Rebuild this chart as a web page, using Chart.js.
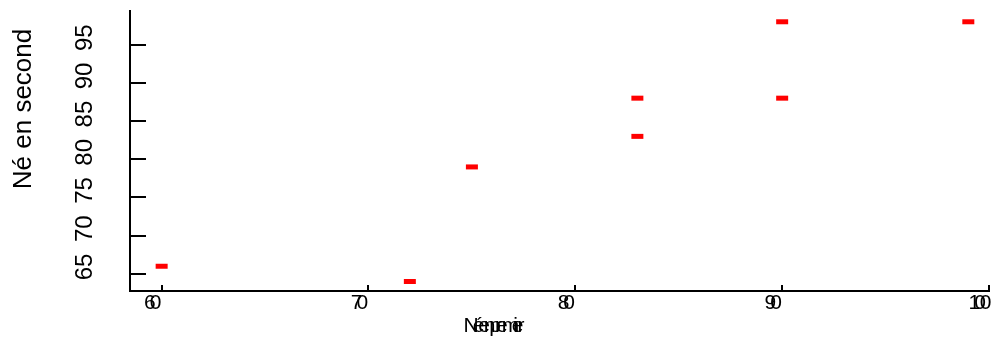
<!DOCTYPE html>
<html lang="fr">
<head>
    <meta charset="UTF-8">
    <title>Né en premier / Né en second</title>
    <script src="https://cdn.jsdelivr.net/npm/chart.js"></script>
    <style>
        html, body { margin: 0; padding: 0; overflow: hidden; background: #fff; }
    </style>
</head>
<body>
    <canvas id="myChart" width="1000" height="341"></canvas>
    <script>
        // values
        const xValues = [60, 72, 75, 83, 83, 90, 90, 99];
        const yValues = [66, 64, 79, 88, 83, 88, 98, 98];

        const xTicks = [60, 70, 80, 90, 100];
        const xTickLabels = ['60', '70', '80', '90', '100'];
        const yTicks = [65, 70, 75, 80, 85, 90, 95];
        const yTickLabels = ['65', '70', '75', '80', '85', '90', '95'];

        const xTitle = 'Né en premier';
        const yTitle = 'Né en second';

        const FONT = '"Liberation Sans", Arial, sans-serif';
        Chart.defaults.font.family = FONT;
        Chart.defaults.color = '#000';

        // inward tick marks, squeezed x labels and axis titles
        const axisExtras = {
            id: 'axisExtras',
            afterDraw(chart) {
                const { ctx, chartArea, scales } = chart;
                const x = scales.x, y = scales.y;
                ctx.save();
                ctx.strokeStyle = '#000';
                ctx.lineWidth = 2;
                ctx.beginPath();
                yTicks.forEach(v => {
                    const py = Math.round(y.getPixelForValue(v));
                    ctx.moveTo(chartArea.left, py);
                    ctx.lineTo(chartArea.left + 16, py);
                });
                xTicks.forEach(v => {
                    const px = Math.round(x.getPixelForValue(v));
                    ctx.moveTo(px, chartArea.bottom);
                    ctx.lineTo(px, chartArea.bottom - 6);
                });
                ctx.stroke();

                ctx.fillStyle = '#000';
                ctx.textAlign = 'center';
                ctx.textBaseline = 'alphabetic';
                ctx.font = '21px ' + FONT;
                ctx.letterSpacing = '-6px';
                xTicks.forEach((v, i) => {
                    const px = Math.min(x.getPixelForValue(v) - 12, 977);
                    ctx.fillText(xTickLabels[i], px, chartArea.bottom + 18);
                });

                ctx.fillText(xTitle, 491, 332);

                ctx.letterSpacing = '0px';
                ctx.font = '26px ' + FONT;
                ctx.translate(24, 109);
                ctx.rotate(-Math.PI / 2);
                ctx.textBaseline = 'middle';
                ctx.fillText(yTitle, 0, 0);
                ctx.restore();
            }
        };

        const ctx = document.getElementById('myChart').getContext('2d');
        const myChart = new Chart(ctx, {
            type: 'scatter',
            data: {
                datasets: [{
                    label: 'points',
                    data: xValues.map((v, i) => ({ x: v, y: yValues[i] })),
                    pointStyle: 'line',
                    pointRadius: 6,
                    pointHoverRadius: 6,
                    pointBorderWidth: 5,
                    borderColor: '#ff0000',
                    backgroundColor: '#ff0000'
                }]
            },
            options: {
                responsive: false,
                animation: false,
                layout: { padding: { top: 8, right: 4, bottom: 0, left: 0 } },
                plugins: {
                    legend: { display: false },
                    tooltip: { enabled: false }
                },
                scales: {
                    x: {
                        type: 'linear',
                        min: 58.47,
                        max: 100,
                        grid: { display: false, drawTicks: false },
                        border: { display: true, color: '#000', width: 2 },
                        ticks: { display: false },
                        afterBuildTicks: s => { s.ticks = xTicks.map(v => ({ value: v })); },
                        afterFit: s => { s.height = 50; s.paddingLeft = 0; s.paddingRight = 0; }
                    },
                    y: {
                        type: 'linear',
                        min: 62.76,
                        max: 99.41,
                        grid: { display: false, drawTicks: false },
                        border: { display: true, color: '#000', width: 2 },
                        afterBuildTicks: s => { s.ticks = yTicks.map(v => ({ value: v })); },
                        ticks: {
                            font: { size: 24 },
                            color: '#000',
                            minRotation: 90,
                            maxRotation: 90,
                            crossAlign: 'center',
                            padding: 31,
                            labelOffset: -7,
                            callback: (v) => yTickLabels[yTicks.indexOf(v)]
                        },
                        afterFit: s => { s.width = 130; s.paddingTop = 0; s.paddingBottom = 0; }
                    }
                }
            },
            plugins: [axisExtras]
        });
    </script>
</body>
</html>
